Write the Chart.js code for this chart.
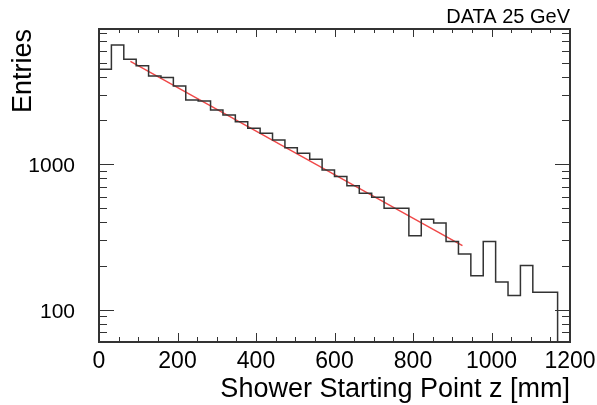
<!DOCTYPE html>
<html>
<head>
<meta charset="utf-8">
<script src="https://cdn.jsdelivr.net/npm/chart.js@4.4.1/dist/chart.umd.min.js"></script>
<style>
  html, body { margin: 0; padding: 0; background: #fff; }
  canvas { display: block; }
</style>
</head>
<body>
<canvas id="shower-chart" width="597" height="405"></canvas>
<script>
// Histogram: 38 bins between 0 and 1200 mm
const nBins = 38;
const zMin = 0;
const zMax = 1200;
const entries = [4490, 6590, 5260, 4750, 4040, 3950, 3450, 2760, 2720, 2360,
                 2180, 1960, 1770, 1630, 1470, 1300, 1190, 1080, 914, 822,
                 710, 632, 594, 499, 499, 322, 419, 394, 294, 242,
                 171, 294, 155, 125, 201, 132, 132, 0];

// exponential fit, end points (z in mm, entries)
const fitZ = [80, 926];
const fitEntries = [5100, 276];

const xTickLabels = [0, 200, 400, 600, 800, 1000, 1200];
const yTickLabels = [100, 1000];
const yRange = [60, 8500];

const FONT = "'Liberation Sans', Arial, Helvetica, sans-serif";

document.addEventListener('DOMContentLoaded', function() {
  const binWidth = (zMax - zMin) / nBins;
  // empty bins are drawn on the lower frame edge, like ROOT does
  const histPoints = entries.map((v, i) => ({ x: zMin + i * binWidth, y: Math.max(v, yRange[0]) }));
  histPoints.push({ x: zMax, y: histPoints[histPoints.length - 1].y });
  const fitPoints = fitZ.map((z, i) => ({ x: z, y: fitEntries[i] }));

  // ROOT style frame with inward ticks on all four sides
  const frameTicks = {
    id: 'frameTicks',
    afterDatasetsDraw(chart) {
      const { ctx, chartArea: a, scales: { x, y } } = chart;
      ctx.save();
      ctx.strokeStyle = '#333';
      ctx.lineWidth = 1;
      ctx.beginPath();
      for (let v = zMin; v <= zMax; v += 50) {
        const px = Math.round(x.getPixelForValue(v)) + 0.5;
        const big = v % 200 === 0;
        ctx.moveTo(px, a.bottom); ctx.lineTo(px, a.bottom - (big ? 9 : 5));
        ctx.moveTo(px, a.top); ctx.lineTo(px, a.top + (big ? 8 : 4));
      }
      for (let d = 10; d <= 1000; d *= 10) {
        for (let m = 1; m <= 9; m++) {
          const v = m * d;
          if (v < y.min || v > y.max) continue;
          const py = Math.round(y.getPixelForValue(v)) + 0.5;
          const len = m === 1 ? 15 : 8;
          ctx.moveTo(a.left, py); ctx.lineTo(a.left + len, py);
          ctx.moveTo(a.right, py); ctx.lineTo(a.right - len, py);
        }
      }
      ctx.stroke();
      ctx.lineWidth = 2;
      ctx.strokeRect(a.left, a.top, a.right - a.left, a.bottom - a.top);
      ctx.restore();
    }
  };

  new Chart(document.getElementById('shower-chart'), {
    type: 'line',
    data: {
      datasets: [{
        label: 'DATA 25 GeV',
        data: histPoints,
        stepped: 'before',
        borderColor: '#333',
        borderWidth: 1.5,
        pointRadius: 0,
        fill: false
      }, {
        label: 'fit',
        data: fitPoints,
        borderColor: '#f04848',
        borderWidth: 1.4,
        pointRadius: 0,
        fill: false
      }]
    },
    options: {
      responsive: false,
      animation: false,
      devicePixelRatio: 1,
      layout: { padding: { top: 0, right: 27, bottom: 0, left: 0 } },
      plugins: {
        legend: { display: false },
        tooltip: { enabled: false },
        title: {
          display: true,
          text: 'DATA 25 GeV',
          align: 'end',
          color: '#000',
          font: { family: FONT, size: 20, weight: 'normal', lineHeight: 1 },
          padding: { top: 7.8, bottom: 1.2 }
        }
      },
      scales: {
        x: {
          type: 'linear',
          min: zMin,
          max: zMax,
          afterBuildTicks: scale => { scale.ticks = xTickLabels.map(v => ({ value: v })); },
          afterFit: scale => { scale.height = 63; },
          grid: { display: false },
          border: { display: false },
          ticks: {
            color: '#000',
            padding: -2,
            maxRotation: 0,
            autoSkip: false,
            font: { family: FONT, size: 23 },
            callback: v => String(v)
          },
          title: {
            display: true,
            text: 'Shower Starting Point z [mm]',
            align: 'end',
            color: '#000',
            font: { family: FONT, size: 27 },
            padding: { top: 0, bottom: -1 }
          }
        },
        y: {
          type: 'logarithmic',
          min: yRange[0],
          max: yRange[1],
          afterBuildTicks: scale => { scale.ticks = yTickLabels.map(v => ({ value: v })); },
          afterFit: scale => { scale.width = 99; },
          grid: { display: false },
          border: { display: false },
          ticks: {
            color: '#000',
            padding: 16,
            labelOffset: 2,
            autoSkip: false,
            font: { family: FONT, size: 21 },
            callback: v => String(v)
          },
          title: {
            display: true,
            text: 'Entries',
            align: 'end',
            color: '#000',
            font: { family: FONT, size: 27 },
            padding: { top: 7, bottom: 0 }
          }
        }
      }
    },
    plugins: [frameTicks]
  });
});
</script>
</body>
</html>
